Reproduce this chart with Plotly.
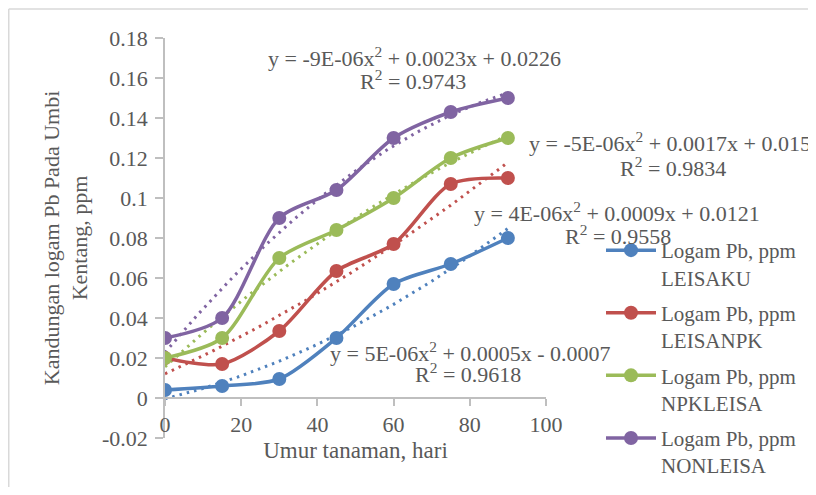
import numpy as np
import plotly.graph_objects as go

# ---- data ----
umur = [0, 15, 30, 45, 60, 75, 90]
leisaku = [0.004, 0.006, 0.0095, 0.030, 0.057, 0.067, 0.080]
leisanpk = [0.020, 0.017, 0.0335, 0.0635, 0.077, 0.107, 0.110]
npkleisa = [0.020, 0.030, 0.070, 0.084, 0.100, 0.120, 0.130]
nonleisa = [0.030, 0.040, 0.090, 0.104, 0.130, 0.143, 0.150]

series_names = ["Logam Pb, ppm<br>LEISAKU", "Logam Pb, ppm<br>LEISANPK",
                "Logam Pb, ppm<br>NPKLEISA", "Logam Pb, ppm<br>NONLEISA"]
series_values = [leisaku, leisanpk, npkleisa, nonleisa]
colors = ["#4F81BD", "#C0504D", "#9BBB59", "#8064A2"]

eq_lines = [
    "y = 5E-06x<sup>2</sup> + 0.0005x - 0.0007",
    "y = 4E-06x<sup>2</sup> + 0.0009x + 0.0121",
    "y = -5E-06x<sup>2</sup> + 0.0017x + 0.0155",
    "y = -9E-06x<sup>2</sup> + 0.0023x + 0.0226",
]
r2_lines = [
    "R<sup>2</sup> = 0.9618",
    "R<sup>2</sup> = 0.9558",
    "R<sup>2</sup> = 0.9834",
    "R<sup>2</sup> = 0.9743",
]

y_tickvals = [-0.02, 0, 0.02, 0.04, 0.06, 0.08, 0.1, 0.12, 0.14, 0.16, 0.18]
y_ticktext = ["-0.02", "0", "0.02", "0.04", "0.06", "0.08", "0.1", "0.12", "0.14", "0.16", "0.18"]
x_tickvals = [0, 20, 40, 60, 80, 100]
x_ticktext = ["0", "20", "40", "60", "80", "100"]

FONT = "Liberation Serif"
TXT = "#595959"

OFF = 8                      # page body margin
W, H = 816 - 2 * OFF, 495 - 2 * OFF
L, R, T, B = 165, 546, 38, 438   # plot area in page pixels


def px(x):
    return (x - L) / (R - L)


def py(y):
    return (B - y) / (B - T)


fig = go.Figure()

xs = np.array(umur, dtype=float)
xfit = np.linspace(0, 90, 91)
for name, vals, col in zip(series_names, series_values, colors):
    coef = np.polyfit(xs, np.array(vals), 2)
    fig.add_trace(go.Scatter(
        x=xfit, y=np.polyval(coef, xfit), mode="lines",
        line=dict(color=col, width=3, dash="2.5px,5px"),
        showlegend=False, hoverinfo="skip"))

for name, vals, col in zip(series_names, series_values, colors):
    fig.add_trace(go.Scatter(
        x=umur, y=vals, mode="lines+markers", name=name,
        legendgroup=name,
        line=dict(color=col, width=3.5, shape="spline", smoothing=0.8),
        marker=dict(color=col, size=14)))

# equation labels: (x, anchor, y) for equation line, (x, y) for R2 line, page px
eq_pos = [((470, "center", 352), (468, 373)),
          ((617, "center", 212), (618, 235)),
          ((527, "left", 142), (673, 167)),
          ((414, "center", 57), (413, 80))]
for eq, r2, ((ex, anc, ey), (rx, ry)) in zip(eq_lines, r2_lines, eq_pos):
    fig.add_annotation(text=eq, xref="paper", yref="paper", x=px(ex), y=py(ey),
                       xanchor=anc, yanchor="middle", showarrow=False,
                       font=dict(family=FONT, size=22, color=TXT))
    fig.add_annotation(text=r2, xref="paper", yref="paper", x=px(rx), y=py(ry),
                       xanchor="center", yanchor="middle", showarrow=False,
                       font=dict(family=FONT, size=22, color=TXT))

# chart border (left and top edges visible)
fig.add_shape(type="line", xref="paper", yref="paper",
              x0=px(OFF + 0.75), y0=py(9), x1=px(OFF + 0.75), y1=py(540),
              line=dict(color="#D9D9D9", width=1.5), layer="below")
fig.add_shape(type="line", xref="paper", yref="paper",
              x0=px(OFF + 0.75), y0=py(9), x1=px(840), y1=py(9),
              line=dict(color="#D9D9D9", width=1.5), layer="below")

fig.update_layout(
    width=W, height=H,
    margin=dict(l=L - OFF, r=W - (R - OFF), t=T - OFF, b=H - (B - OFF), autoexpand=False),
    paper_bgcolor="white", plot_bgcolor="white",
    font=dict(family=FONT, size=22, color=TXT),
    xaxis=dict(range=[0, 100], tickvals=x_tickvals, ticktext=x_ticktext,
               anchor="free", position=0.1, showline=True, linecolor="#BFBFBF",
               linewidth=1.5, ticks="outside", ticklen=7, tickcolor="#BFBFBF",
               tickwidth=1.5, showgrid=False, zeroline=False,
               tickfont=dict(family=FONT, size=22, color=TXT),
               title=dict(text="Umur tanaman, hari", standoff=5,
                          font=dict(family=FONT, size=23, color=TXT))),
    yaxis=dict(range=[-0.02, 0.18], tickvals=y_tickvals, ticktext=y_ticktext,
               showline=True, linecolor="#BFBFBF", linewidth=1.5,
               ticks="outside", ticklen=8, tickcolor="#BFBFBF", tickwidth=1.5,
               showgrid=False, zeroline=False, ticklabelstandoff=3,
               tickfont=dict(family=FONT, size=22, color=TXT),
               title=dict(text="Kandungan logam Pb Pada Umbi<br>Kentang, ppm", standoff=8,
                          font=dict(family=FONT, size=22, color=TXT))),
    legend=dict(xref="container", yref="container",
                x=(601 - OFF) / W, y=1 - (230 - OFF) / H,
                xanchor="left", yanchor="top", maxheight=600,
                valign="top", itemwidth=50, tracegroupgap=5,
                bgcolor="rgba(0,0,0,0)", font=dict(family=FONT, size=21, color=TXT)),
)

fig.write_html("out.html")
